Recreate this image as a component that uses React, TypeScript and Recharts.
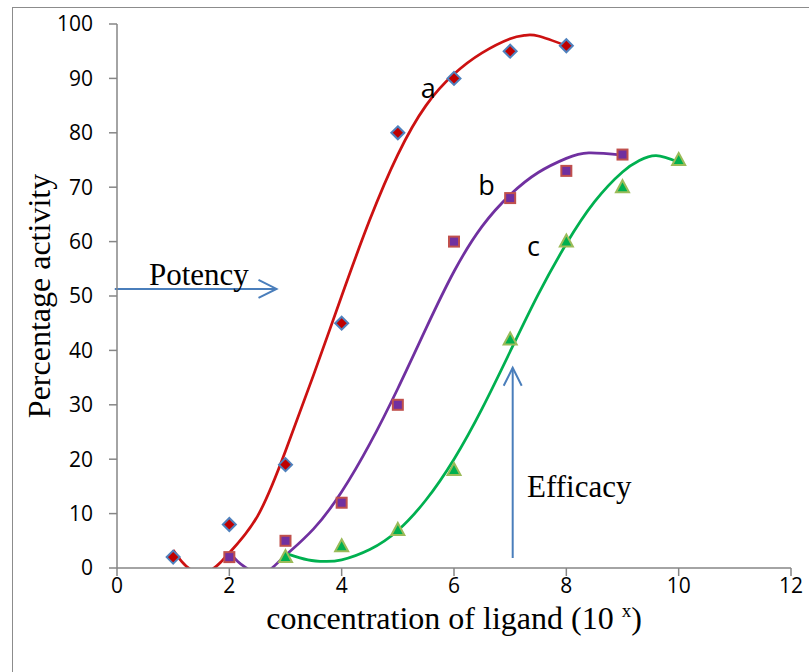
import React from 'react';
import {
  ComposedChart,
  Line,
  Scatter,
  XAxis,
  YAxis,
  ReferenceLine,
  ReferenceDot
} from 'recharts';

// measured points
const pointsA = [
  { x: 1, y: 2 }, { x: 2, y: 8 }, { x: 3, y: 19 }, { x: 4, y: 45 },
  { x: 5, y: 80 }, { x: 6, y: 90 }, { x: 7, y: 95 }, { x: 8, y: 96 }
];
const pointsB = [
  { x: 2, y: 2 }, { x: 3, y: 5 }, { x: 4, y: 12 }, { x: 5, y: 30 },
  { x: 6, y: 60 }, { x: 7, y: 68 }, { x: 8, y: 73 }, { x: 9, y: 76 }
];
const pointsC = [
  { x: 3, y: 2 }, { x: 4, y: 4 }, { x: 5, y: 7 }, { x: 6, y: 18 },
  { x: 7, y: 42 }, { x: 8, y: 60 }, { x: 9, y: 70 }, { x: 10, y: 75 }
];

// trend curves
const curveA = [
  { x: 1, y: 3.3 }, { x: 1.15, y: 1.2 }, { x: 1.3, y: -0.2 }, { x: 1.5, y: -0.9 },
  { x: 1.7, y: -0.2 }, { x: 1.85, y: 1.1 }, { x: 2, y: 2.8 }, { x: 2.5, y: 9.5 },
  { x: 3, y: 21.5 }, { x: 3.5, y: 35.5 }, { x: 4, y: 50 }, { x: 4.5, y: 64 },
  { x: 5, y: 76 }, { x: 5.5, y: 85 }, { x: 6, y: 90.8 }, { x: 6.5, y: 94.7 },
  { x: 7, y: 97.3 }, { x: 7.25, y: 97.9 }, { x: 7.5, y: 97.8 }, { x: 8, y: 96 }
];
const curveB = [
  { x: 2, y: 2.8 }, { x: 2.15, y: 1.2 }, { x: 2.3, y: 0 }, { x: 2.53, y: -1.1 },
  { x: 2.75, y: -0.1 }, { x: 3, y: 2.3 }, { x: 3.5, y: 7.2 }, { x: 4, y: 14 },
  { x: 4.5, y: 22.8 }, { x: 5, y: 33 }, { x: 5.5, y: 44 }, { x: 6, y: 54.5 },
  { x: 6.5, y: 62.8 }, { x: 7, y: 68.6 }, { x: 7.5, y: 72.7 }, { x: 8, y: 75.3 },
  { x: 8.4, y: 76.3 }, { x: 9, y: 75.9 }
];
const curveC = [
  { x: 3, y: 2.7 }, { x: 3.4, y: 1.5 }, { x: 3.7, y: 1.2 }, { x: 4, y: 1.5 },
  { x: 4.5, y: 3.4 }, { x: 5, y: 6.9 }, { x: 5.5, y: 12.5 }, { x: 6, y: 20 },
  { x: 6.5, y: 29.3 }, { x: 7, y: 39.8 }, { x: 7.5, y: 50.3 }, { x: 8, y: 59.6 },
  { x: 8.5, y: 67.3 }, { x: 9, y: 72.8 }, { x: 9.3, y: 74.9 }, { x: 9.6, y: 75.8 },
  { x: 10, y: 74.6 }
];

const xTicks = [0, 2, 4, 6, 8, 10, 12];
const yTicks = [0, 10, 20, 30, 40, 50, 60, 70, 80, 90, 100];

const curveLabels = [
  { text: 'a', x: 5.41, y: 86.4 },
  { text: 'b', x: 6.43, y: 68.6 },
  { text: 'c', x: 7.3, y: 57.4 }
];

const AXIS = '#868686';
const ARROW = '#4A7EBB';
const SANS = '"Open Sans", sans-serif';
const SERIF = '"Liberation Serif", "Times New Roman", serif';

const Diamond = (p: any) => {
  const { cx, cy } = p;
  const r = 6.5;
  return (
    <path
      d={`M${cx},${cy - r}L${cx + r},${cy}L${cx},${cy + r}L${cx - r},${cy}Z`}
      fill="#C00000"
      stroke="#4F81BD"
      strokeWidth={2}
    />
  );
};

const Square = (p: any) => {
  const { cx, cy } = p;
  return <rect x={cx - 5} y={cy - 5} width={10} height={10} fill="#7030A0" stroke="#C0504D" strokeWidth={2} />;
};

const Triangle = (p: any) => {
  const { cx, cy } = p;
  return (
    <path
      d={`M${cx},${cy - 7}L${cx + 6.5},${cy + 5}L${cx - 6.5},${cy + 5}Z`}
      fill="#00B050"
      stroke="#9BBB59"
      strokeWidth={2}
    />
  );
};

const arrow = (props: any) => {
  const { x1, y1, x2, y2 } = props;
  const dx = x2 - x1;
  const dy = y2 - y1;
  const len = Math.sqrt(dx * dx + dy * dy) || 1;
  const ux = dx / len;
  const uy = dy / len;
  const hl = 18;
  const hw = 9;
  const bx = x2 - ux * hl;
  const by = y2 - uy * hl;
  return (
    <g>
      <line x1={x1} y1={y1} x2={x2} y2={y2} stroke={ARROW} strokeWidth={2} />
      <polyline
        points={`${bx - uy * hw},${by + ux * hw} ${x2},${y2} ${bx + uy * hw},${by - ux * hw}`}
        fill="none"
        stroke={ARROW}
        strokeWidth={2}
      />
    </g>
  );
};

const textAt = (text: string, family: string, size: number) => (p: any) => (
  <text x={p.cx} y={p.cy} fontFamily={family} fontSize={size} fill="#000" textAnchor="start">
    {text}
  </text>
);

const XTitle = (props: any) => {
  const vb = props.viewBox;
  return (
    <text x={vb.x + vb.width / 2} y={629} textAnchor="middle" fontFamily={SERIF} fontSize={32} fill="#000">
      concentration of ligand (10{' '}
      <tspan dy={-12} fontSize={19}>x</tspan>
      <tspan dy={12}>)</tspan>
    </text>
  );
};

const YTitle = (props: any) => {
  const vb = props.viewBox;
  const cy = vb.y + vb.height / 2;
  return (
    <text
      x={50}
      y={cy}
      transform={`rotate(-90, 50, ${cy})`}
      textAnchor="middle"
      fontFamily={SERIF}
      fontSize={32}
      fill="#000"
    >
      Percentage activity
    </text>
  );
};

export default function App() {
  return (
    <div style={{ position: 'absolute', left: 0, top: 0, width: 809, height: 672, background: '#fff', overflow: 'hidden' }}>
      <div
        style={{
          position: 'absolute',
          left: 12,
          top: 7,
          width: 900,
          height: 800,
          borderLeft: '1.5px solid #8c8c8c',
          borderTop: '1.5px solid #8c8c8c'
        }}
      />
      <div style={{ position: 'absolute', left: 0, top: 0 }}>
        <ComposedChart width={809} height={672} margin={{ top: 24, right: 18, bottom: 44, left: 57 }}>
          <XAxis
            dataKey="x"
            type="number"
            domain={[0, 12]}
            ticks={xTicks}
            height={60}
            stroke={AXIS}
            axisLine={{ stroke: AXIS, strokeWidth: 1.5 }}
            tickLine={{ stroke: AXIS, strokeWidth: 1.5 }}
            tickSize={8}
            tickMargin={2}
            tick={{ fill: '#000', fontFamily: SANS, fontSize: 21 }}
            label={{ content: XTitle }}
            allowDataOverflow
          />
          <YAxis
            type="number"
            domain={[0, 100]}
            ticks={yTicks}
            width={60}
            stroke={AXIS}
            axisLine={{ stroke: AXIS, strokeWidth: 1.5 }}
            tickLine={{ stroke: AXIS, strokeWidth: 1.5 }}
            tickSize={8}
            tickMargin={16}
            tick={{ fill: '#000', fontFamily: SANS, fontSize: 21 }}
            label={{ content: YTitle }}
            allowDataOverflow
            interval={0}
          />
          <Scatter data={pointsA} dataKey="y" shape={Diamond} isAnimationActive={false} />
          <Scatter data={pointsB} dataKey="y" shape={Square} isAnimationActive={false} />
          <Scatter data={pointsC} dataKey="y" shape={Triangle} isAnimationActive={false} />
          <Line data={curveA} dataKey="y" type="natural" stroke="#CC1111" strokeWidth={2.75} dot={false} activeDot={false} isAnimationActive={false} />
          <Line data={curveB} dataKey="y" type="natural" stroke="#7030A0" strokeWidth={2.75} dot={false} activeDot={false} isAnimationActive={false} />
          <Line data={curveC} dataKey="y" type="natural" stroke="#00B050" strokeWidth={2.75} dot={false} activeDot={false} isAnimationActive={false} />
          <ReferenceLine
            segment={[{ x: -0.04, y: 51.3 }, { x: 2.84, y: 51.3 }]}
            shape={arrow}
            ifOverflow="visible"
          />
          <ReferenceLine
            segment={[{ x: 7.045, y: 1.84 }, { x: 7.045, y: 36.8 }]}
            shape={arrow}
            ifOverflow="visible"
          />
          {curveLabels.map((l) => (
            <ReferenceDot key={l.text} x={l.x} y={l.y} r={0} shape={textAt(l.text, SANS, 27)} ifOverflow="visible" />
          ))}
          <ReferenceDot x={0.57} y={52} r={0} shape={textAt('Potency', SERIF, 31)} ifOverflow="visible" />
          <ReferenceDot x={7.3} y={13.05} r={0} shape={textAt('Efficacy', SERIF, 31)} ifOverflow="visible" />
        </ComposedChart>
      </div>
    </div>
  );
}
